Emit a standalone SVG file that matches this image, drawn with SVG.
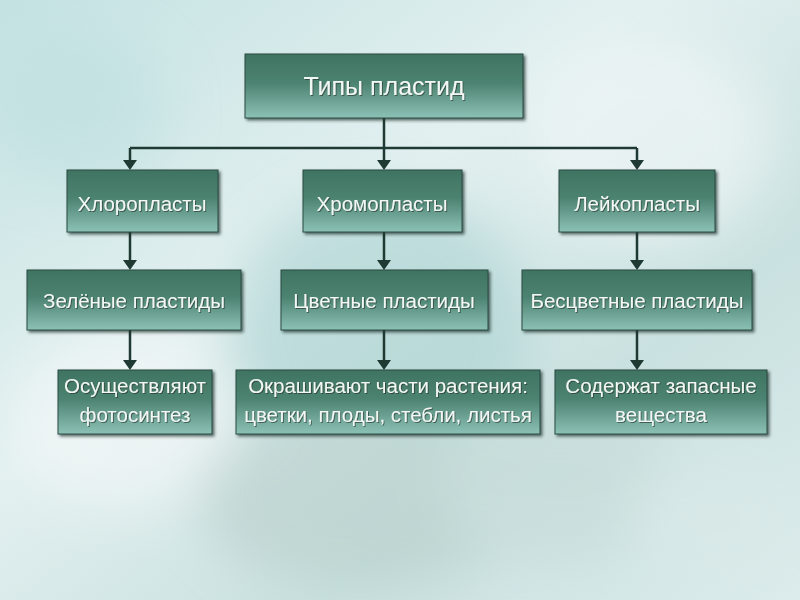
<svg xmlns="http://www.w3.org/2000/svg" width="800" height="600" viewBox="0 0 800 600">
<defs>
<linearGradient id="bg" x1="0" y1="0" x2="1" y2="1">
<stop offset="0" stop-color="#c4e2e2"/>
<stop offset="0.4" stop-color="#e3f0f0"/>
<stop offset="0.7" stop-color="#c9e1e0"/>
<stop offset="1" stop-color="#dcecec"/>
</linearGradient>
<linearGradient id="box" x1="0" y1="0" x2="0" y2="1">
<stop offset="0" stop-color="#3f7462"/>
<stop offset="0.45" stop-color="#4c8270"/>
<stop offset="1" stop-color="#8cc1b6"/>
</linearGradient>
<filter id="blur" x="-50%" y="-50%" width="200%" height="200%"><feGaussianBlur stdDeviation="25"/></filter>
<filter id="sh" x="-10%" y="-10%" width="130%" height="140%"><feDropShadow dx="2" dy="2" stdDeviation="1.5" flood-color="#1c2e28" flood-opacity="0.7"/></filter>
<filter id="ts" x="-5%" y="-20%" width="110%" height="140%"><feDropShadow dx="1" dy="1" stdDeviation="0.6" flood-color="#1c2e28" flood-opacity="0.6"/></filter>
</defs>
<style>
.b{fill:url(#box);stroke:#2a4a40;stroke-width:1;filter:url(#sh)}
.t{fill:#f2f7f4;font-family:"Liberation Sans",Arial,sans-serif;font-size:20.5px;text-anchor:middle;filter:url(#ts)}
.tt{font-size:25px}
.c{fill:none;stroke:#1f3a33;stroke-width:2.5}
.hd{fill:#1f3a33}
</style>
<rect width="800" height="600" fill="url(#bg)"/>
<g filter="url(#blur)" opacity="0.6">
<ellipse cx="120" cy="420" rx="110" ry="90" fill="#f4f8f8"/>
<ellipse cx="380" cy="330" rx="150" ry="140" fill="#a9d2d0"/>
<ellipse cx="360" cy="500" rx="160" ry="90" fill="#b8cfcb"/>
<ellipse cx="650" cy="140" rx="120" ry="100" fill="#f2f7f7"/>
<ellipse cx="560" cy="480" rx="120" ry="80" fill="#c7dcd9"/>
<ellipse cx="80" cy="110" rx="90" ry="80" fill="#bfe0e0"/>
<ellipse cx="720" cy="520" rx="90" ry="70" fill="#d9e9e8"/>
</g>
<g id="connectors">
<path class="c" d="M384,118 V148 M130,148 H637 M130,148 V162 M384,148 V162 M637,148 V162"/>
<path class="c" d="M130,232 V262 M384,232 V262 M637,232 V262"/>
<path class="c" d="M130,330 V362 M384,330 V362 M637,330 V362"/>
<path class="hd" d="M123,160 L137,160 L130,170 z M377,160 L391,160 L384,170 z M630,160 L644,160 L637,170 z"/>
<path class="hd" d="M123,260 L137,260 L130,270 z M377,260 L391,260 L384,270 z M630,260 L644,260 L637,270 z"/>
<path class="hd" d="M123,360 L137,360 L130,370 z M377,360 L391,360 L384,370 z M630,360 L644,360 L637,370 z"/>
</g>
<g id="n-root"><rect class="b" x="245" y="54" width="278" height="64"/><text class="t tt" x="384" y="95">Типы пластид</text></g>
<g id="n-chloro"><rect class="b" x="67" y="170" width="151" height="62"/><text class="t" x="142" y="211">Хлоропласты</text></g>
<g id="n-chromo"><rect class="b" x="303" y="170" width="159" height="62"/><text class="t" x="382" y="211">Хромопласты</text></g>
<g id="n-leuko"><rect class="b" x="559" y="170" width="156" height="62"/><text class="t" x="637" y="211">Лейкопласты</text></g>
<g id="n-green"><rect class="b" x="27" y="270" width="214" height="60"/><text class="t" x="134" y="308">Зелёные пластиды</text></g>
<g id="n-color"><rect class="b" x="281" y="270" width="207" height="60"/><text class="t" x="384" y="308">Цветные пластиды</text></g>
<g id="n-colorless"><rect class="b" x="522" y="270" width="230" height="60"/><text class="t" x="637" y="308">Бесцветные пластиды</text></g>
<g id="n-photo"><rect class="b" x="58" y="370" width="154" height="64"/><text class="t" x="135" y="393">Осуществляют</text><text class="t" x="135" y="422">фотосинтез</text></g>
<g id="n-paint"><rect class="b" x="236" y="370" width="304" height="64"/><text class="t" x="388" y="393">Окрашивают части растения:</text><text class="t" x="388" y="422">цветки, плоды, стебли, листья</text></g>
<g id="n-store"><rect class="b" x="555" y="370" width="212" height="64"/><text class="t" x="661" y="393">Содержат запасные</text><text class="t" x="661" y="422">вещества</text></g>
</svg>
